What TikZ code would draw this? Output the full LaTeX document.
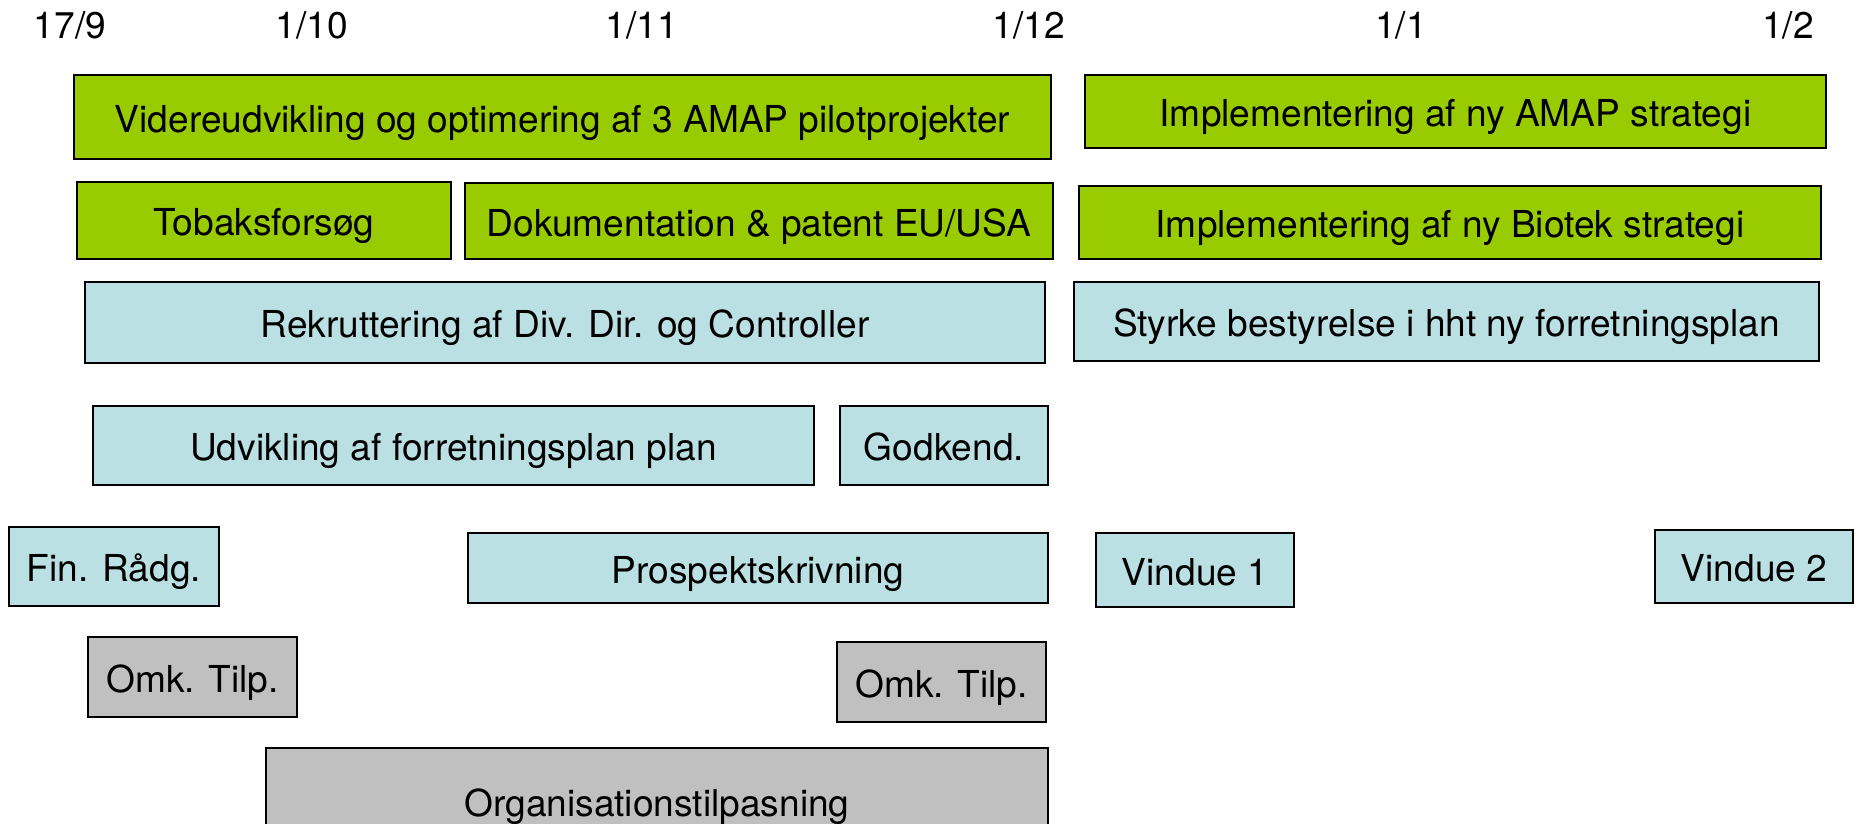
\documentclass[tikz,border=0pt]{standalone}
\usepackage{fontspec}
\setmainfont{TeX Gyre Heros}

\definecolor{amapgreen}{HTML}{99CC00}
\definecolor{planblue}{HTML}{BBE0E3}
\definecolor{orggray}{HTML}{C0C0C0}

\begin{document}
\begin{tikzpicture} [x=0.01cm, y=-0.01cm,
            every node/.style={font=\fontsize{10.55}{13}\selectfont,
                text height=8.6pt, text depth=0pt},
            bar/.style={draw=black, line width=0.6pt, inner sep=0pt},
            greenbar/.style={bar, fill=amapgreen},
            bluebar/.style={bar, fill=planblue},
            graybar/.style={bar, fill=orggray},
            datelabel/.style={anchor=base}]

        \clip (0,0) rectangle (1857,823);

        % Dates
        \node (d0) [datelabel] at (70,38) {17/9};
        \node (d1) [datelabel] at (312,38) {1/10};
        \node (d2) [datelabel] at (642,38) {1/11};
        \node (d3) [datelabel] at (1029,38) {1/12};
        \node (d4) [datelabel] at (1401,38) {1/1};
        \node (d5) [datelabel] at (1788,38) {1/2};

        % AMAP
        \node (vid) [greenbar,
            minimum width=9.77cm, minimum height=0.84cm]
            at (562.5,117) {Videreudvikling og optimering af 3 AMAP pilotprojekter};
        \node (implamap) [greenbar,
            minimum width=7.41cm, minimum height=0.73cm]
            at (1455.5,111.5) {Implementering af ny AMAP strategi};

        % Biotek
        \node (tob) [greenbar,
            minimum width=3.74cm, minimum height=0.77cm]
            at (264,220.5) {Tobaksforsøg};
        \node (dok) [greenbar,
            minimum width=5.88cm, minimum height=0.76cm]
            at (759,221) {Dokumentation \& patent EU/USA};
        \node (implbio) [greenbar,
            minimum width=7.42cm, minimum height=0.73cm]
            at (1450,222.5) {Implementering af ny Biotek strategi};

        % Ledelse
        \node (rek) [bluebar,
            minimum width=9.60cm, minimum height=0.81cm]
            at (565,322.5) {Rekruttering af Div. Dir. og Controller};
        \node (sty) [bluebar,
            minimum width=7.45cm, minimum height=0.79cm]
            at (1446.5,321.5) {Styrke bestyrelse i hht ny forretningsplan};

        % Forretningsplan
        \node (udv) [bluebar,
            minimum width=7.21cm, minimum height=0.79cm]
            at (453.5,445.5) {Udvikling af forretningsplan plan};
        \node (god) [bluebar,
            minimum width=2.08cm, minimum height=0.79cm]
            at (944,445.5) {Godkend.};

        % Finansiering
        \node (fin) [bluebar,
            minimum width=2.09cm, minimum height=0.79cm]
            at (114,566.5) {Fin. Rådg.};
        \node (pro) [bluebar,
            minimum width=5.80cm, minimum height=0.70cm]
            at (758,568) {Prospektskrivning};
        \node (vin1) [bluebar,
            minimum width=1.98cm, minimum height=0.74cm]
            at (1195,570) {Vindue 1};
        \node (vin2) [bluebar,
            minimum width=1.98cm, minimum height=0.73cm]
            at (1754,566.5) {Vindue 2};

        % Organisation
        \node (omk1) [graybar,
            minimum width=2.09cm, minimum height=0.80cm]
            at (192.5,677) {Omk. Tilp.};
        \node (omk2) [graybar,
            minimum width=2.09cm, minimum height=0.80cm]
            at (941.5,682) {Omk. Tilp.};
        \node (org) [graybar,
            minimum width=7.82cm, minimum height=1.06cm]
            at (657,801) {Organisationstilpasning};
        \end{tikzpicture}
\end{document}
